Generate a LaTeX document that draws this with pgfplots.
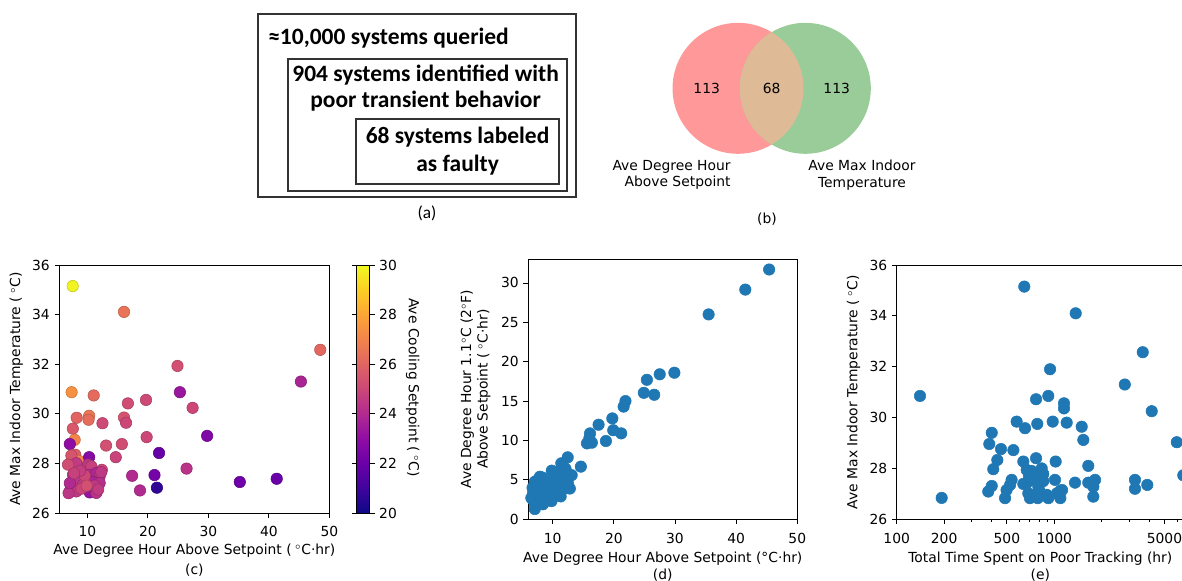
\documentclass[border=0pt]{standalone}
\usepackage{pgfplots}
\pgfplotsset{compat=1.18}
\usepackage{fontspec}
\setmainfont{DejaVu Sans}
\newfontfamily\calibri{Carlito}

\definecolor{mplblue}{HTML}{1F77B4}
\definecolor{vennred}{HTML}{FF9999}
\definecolor{venngreen}{HTML}{99CC99}
\definecolor{venntan}{HTML}{DEBB96}

\newcommand{\mplfont}{\fontsize{10.4}{12.5}\selectfont}
\newcommand{\degC}{\hspace{0.25em}$^{\circ}$C}

\pgfplotsset{
  colormap={plasma}{
    rgb255=(13,8,135) rgb255=(65,4,157) rgb255=(106,0,168) rgb255=(143,13,164)
    rgb255=(177,42,144) rgb255=(204,71,120) rgb255=(225,100,98) rgb255=(242,132,75)
    rgb255=(252,166,54) rgb255=(252,206,37) rgb255=(240,249,33)},
  panel/.style={
    scale only axis, anchor=south west,
    axis line style={line width=0.6pt},
    tick align=outside, tick pos=left,
    major tick length=3.6pt, minor tick length=2pt,
    every tick/.style={black, line width=0.6pt},
    tick label style={font=\mplfont},
    xticklabel style={yshift=-3pt},
    label style={font=\mplfont},
    xlabel style={align=center, font=\fontsize{10.4}{15}\selectfont},
    ylabel style={align=center},
    /pgf/number format/assume math mode=true,
    /pgf/number format/1000 sep={},
  },
  dots/.style={only marks, mark=*, mark size=4.3pt},
}

% Panel (c): max indoor temperature vs degree hours, coloured by cooling setpoint
\pgfplotstableread{
x      y      sp
7.58   35.15  29.9
16.06  34.11  26.5
48.5   32.58  26.1
24.9   31.93  25.3
45.3   31.30  23.8
7.4    30.87  27.4
25.3   30.87  23.3
11.05  30.74  26.2
16.7   30.42  25.2
27.4   30.24  25.0
19.7   30.56  25.1
8.24   29.84  26.0
10.3   29.92  26.6
10.2   29.76  26.3
16.06  29.85  25.4
16.4   29.64  25.0
12.5   29.62  25.1
7.6    29.40  25.6
7.9    28.95  27.0
7.1    28.78  23.0
19.8   29.06  25.0
29.8   29.11  22.6
13.1   28.72  25.3
15.7   28.78  25.2
14.7   28.25  24.9
8.0    28.35  25.8
8.6    28.10  27.0
10.3   28.25  22.8
21.85  28.42  21.9
7.2    28.00  25.0
26.4   27.79  24.3
17.4   27.50  24.0
21.1   27.53  22.3
35.2   27.25  22.1
41.3   27.38  22.0
21.5   27.02  20.7
18.7   26.91  24.0
11.9   27.48  25.6
12.4   27.74  25.1
7.36   28.32  25.5
8.18   28.01  24.6
6.8    27.95  25.2
10.1   27.95  24.4
10.66  27.88  24.8
7.63   27.54  24.2
8.18   27.41  25.6
10.39  27.54  24.0
11.49  27.61  23.9
12.04  27.48  24.3
12.3   27.65  24.5
7.36   27.21  23.6
8.46   27.28  24.4
9.28   27.14  24.6
10.94  27.25  23.8
12.04  27.21  24.2
7.08   26.87  24.1
8.18   26.87  24.5
10.39  26.83  23.2
11.49  26.81  24.3
9.0    26.98  24.9
6.9    26.80  24.4
7.1    27.20  24.0
9.6    27.50  25.0
8.8    27.70  24.7
11.2   27.10  24.5
7.8    27.60  24.8
9.9    27.10  25.3
11.8   26.95  24.6
}\tabC

% Panel (d): degree hours 1.1 C above setpoint vs degree hours above setpoint
\pgfplotstableread{
x      y
45.4   31.7
41.5   29.15
35.5   26.0
29.9   18.6
27.5   18.4
25.4   17.7
24.9   16.05
26.6   15.8
21.9   15.0
21.6   14.3
17.5   12.0
19.75  12.8
19.9   11.3
21.2   10.9
18.7   9.93
16.1   10.9
16.4   9.72
15.6   9.63
16.0   10.3
14.6   6.68
12.45  7.86
11.7   6.76
11.4   7.1
13.1   5.6
9.84   6.17
7.9    5.4
7.06   4.76
10.6   5.3
11.7   4.75
8.1    4.1
12.3   4.0
12.5   4.5
10.05  3.35
11.4   3.6
6.8    3.35
8.1    2.7
9.8    2.3
10.1   2.8
7.06   2.1
8.4    1.9
7.06   1.3
6.5    2.7
7.5    3.0
7.3    3.8
7.7    4.4
8.5    3.4
8.8    2.6
6.9    2.3
7.2    1.8
7.9    5.0
8.3    5.3
9.2    3.1
10.4   4.2
10.8   3.9
11.0   5.8
11.9   5.3
12.1   6.4
10.3   6.0
9.5    4.7
8.9    4.0
7.4    4.9
6.7    4.0
12.8   3.9
11.3   2.9
9.3    2.5
10.0   5.1
7.6    2.4
8.2    3.6
}\tabD

% Panel (e): max indoor temperature vs total time spent on poor tracking
\pgfplotstableread{
x      y
140.6  30.85
193    26.84
645    35.15
1367   34.10
3640   32.57
940    31.90
2800   31.30
916    30.85
766    30.72
1152   30.56
1152   30.36
4150   30.25
577    29.84
652    29.58
780    29.75
977    29.84
1198   29.80
1492   29.64
1528   29.12
5985   29.03
401    29.40
387    28.96
459    28.76
550    28.72
435    28.33
410    27.97
636    28.27
766    28.40
1020   28.27
1643   28.10
6580   27.73
668    27.94
718    27.90
832    28.00
851    27.78
773    27.68
718    27.55
668    27.42
792    27.28
851    27.50
1010   27.55
536    27.55
524    27.35
498    27.15
487    26.83
401    27.31
381    27.09
636    27.39
684    27.02
773    26.96
895    26.96
916    26.83
1040   27.02
1092   26.83
1120   27.15
1353   27.44
1643   27.44
1813   27.55
1768   27.28
1768   26.89
3250   27.55
3250   27.20
3890   27.35
700    26.83
800    27.15
1096   27.13
785    26.83
690    27.70
}\tabE

\begin{document}
\begin{tikzpicture}
\useasboundingbox (0,0) rectangle (886.5pt,435.75pt);
\clip (0,0) rectangle (886.5pt,435.75pt);

% ---- (a) nested boxes ----
\begin{scope}[black!80, line width=0.9pt]
  \draw (193.5pt,425.25pt) rectangle (432pt,288pt);
  \draw (216pt,391.5pt) rectangle (425.25pt,292.5pt);
  \draw (267pt,346.5pt) rectangle (419.25pt,297.75pt);
\end{scope}
\begin{scope}[every node/.style={inner sep=0pt, font=\calibri\bfseries\fontsize{17.6}{20}\selectfont}]
  \node[anchor=base west] at (201pt,402pt) {≈10,000 systems queried};
  \node[anchor=base] at (319.2pt,374.5pt) {904 systems identified with};
  \node[anchor=base] at (319.2pt,355.3pt) {poor transient behavior};
  \node[anchor=base] at (343.2pt,327.75pt) {68 systems labeled};
  \node[anchor=base] at (343.2pt,307pt) {as faulty};
\end{scope}
\node[font=\calibri\fontsize{13}{15}\selectfont] at (320.25pt,276pt) {(a)};

% ---- (b) Venn diagram ----
\fill[vennred] (553.5pt,369.5pt) circle[radius=49.1pt];
\fill[venngreen] (604pt,369.5pt) circle[radius=49.1pt];
\begin{scope}
  \clip (553.5pt,369.5pt) circle[radius=49.1pt];
  \fill[venntan] (604pt,369.5pt) circle[radius=49.1pt];
\end{scope}
\begin{scope}[every node/.style={font=\mplfont}]
  \node at (530pt,369.5pt) {113};
  \node at (578.8pt,369.5pt) {68};
  \node at (627.5pt,369.5pt) {113};
  \node[anchor=east, align=right] at (551.5pt,304.5pt) {Ave Degree Hour\\Above Setpoint};
  \node[align=center] at (646.5pt,304.5pt) {Ave Max Indoor\\Temperature};
  \node at (575.25pt,271.5pt) {(b)};
\end{scope}

% ---- (c) ----
\begin{axis}[panel,
  at={(44.5pt,51pt)}, width=202.5pt, height=186pt,
  xmin=5.37, xmax=50, ymin=26, ymax=36,
  xtick={10,20,...,50}, ytick={26,28,...,36},
  xlabel={Ave Degree Hour Above Setpoint (\degC·hr)\\(c)},
  xlabel style={yshift=1.5pt},
  ylabel={Ave Max Indoor Temperature (\degC)},
  colormap name=plasma, point meta min=20, point meta max=30,
  colorbar,
  colorbar style={
    scale only axis, anchor=south west,
    at={(parent axis.south east)}, xshift=12pt,
    width=9.75pt, height=186pt,
    axis line style={line width=0.6pt},
    ytick={20,22,...,30}, yticklabel pos=right,
    tick align=outside, major tick length=3.6pt,
    every tick/.style={black, line width=0.6pt},
    tick label style={font=\mplfont},
    /pgf/number format/assume math mode=true,
    ylabel={Ave Cooling Setpoint (\degC)},
    ylabel style={font=\mplfont, rotate=180, xshift=-1pt},
  },
]
\addplot[dots, scatter, point meta=\thisrow{sp}] table[x=x, y=y] {\tabC};
\end{axis}

% ---- (d) ----
\begin{axis}[panel,
  at={(396.2pt,46.3pt)}, width=201.75pt, height=195pt,
  xmin=6, xmax=50, ymin=0, ymax=33,
  xtick={10,20,...,50}, ytick={0,5,...,30},
  xlabel={Ave Degree Hour Above Setpoint (°C·hr)\\(d)},
  xlabel style={font=\fontsize{10.4}{12.6}\selectfont},
  ylabel={Ave Degree Hour 1.1$^{\circ}$C (2$^{\circ}$F)\\Above Setpoint (\degC·hr)},
  ylabel style={yshift=1pt},
]
\addplot[dots, mplblue] table[x=x, y=y] {\tabD};
\end{axis}

% ---- (e) ----
\begin{axis}[panel, xmode=log,
  at={(672.5pt,46.3pt)}, width=215.5pt, height=190.7pt,
  xmin=100, xmax=6650, ymin=26, ymax=36,
  xtick={100,200,500,1000,5000},
  xticklabels={100,200,500,1000,5000},
  minor xtick={300,400,600,700,800,900,2000,3000,4000,6000},
  ytick={26,28,...,36},
  xlabel={Total Time Spent on Poor Tracking (hr)\\(e)},
  xlabel style={font=\fontsize{10.4}{12.6}\selectfont},
  ylabel={Ave Max Indoor Temperature (\degC)},
]
\addplot[dots, mplblue] table[x=x, y=y] {\tabE};
\end{axis}
\end{tikzpicture}
\end{document}
